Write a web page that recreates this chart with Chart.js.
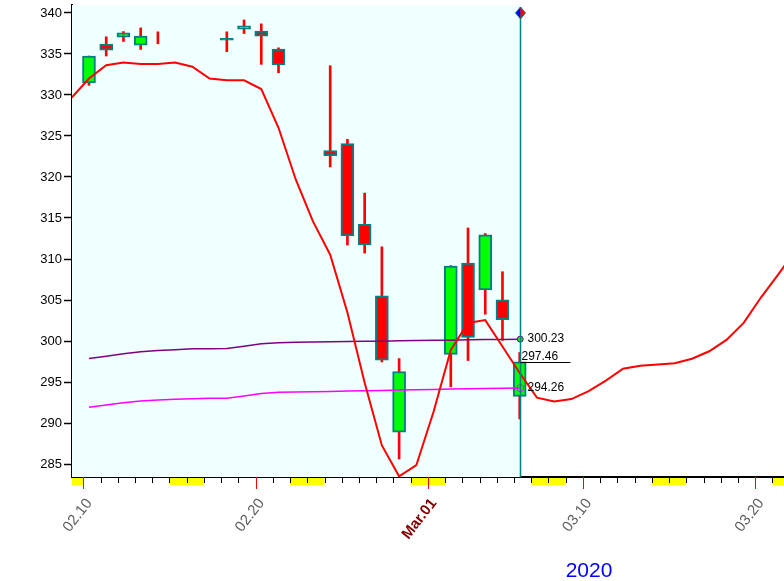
<!DOCTYPE html>
<html>
<head>
<meta charset="utf-8">
<script src="https://cdn.jsdelivr.net/npm/chart.js@4/dist/chart.umd.min.js"></script>
<style>
  html, body { margin: 0; padding: 0; background: #fff; overflow: hidden; }
  #wrap { width: 784px; height: 581px; overflow: hidden; }
</style>
</head>
<body>
<!-- canvas is 5px wider than the window: Chart.js keeps a small right gap for the rotated labels -->
<div id="wrap"><canvas id="chart" width="789" height="581"></canvas></div>
<script>
// day numbers counted from 02.10 (0 = Feb 10 2020)
const candleDays = [0, 1, 2, 3, 4, 8, 9, 10, 11, 14, 15, 16, 17, 18, 21, 22, 23, 24, 25];
const opens  = [331.47, 336.20, 337.05, 336.08, null, 336.85, 338.02, 337.78, 335.60, 323.22, 324.07, 314.24, 305.50, 288.88, 298.38, 309.51, 306.23, 305.02, 293.25];
const closes = [334.75, 335.47, 337.57, 337.17, null, 336.67, 338.42, 337.17, 333.65, 322.61, 312.82, 311.73, 297.65, 296.28, 309.14, 300.45, 312.94, 302.60, 297.46];
const highs  = [334.75, 337.09, 337.73, 338.18, 337.70, 337.70, 339.15, 338.67, 335.75, 333.57, 324.59, 318.04, 311.49, 297.86, 309.20, 313.79, 313.10, 308.45, 298.60];
const lows   = [331.18, 334.75, 336.52, 335.55, 336.24, 335.27, 337.49, 333.73, 332.70, 321.23, 311.70, 310.72, 297.45, 285.61, 294.42, 297.62, 303.27, 300.08, 290.50];

// red curve, one point per calendar day from 02.09
const redStart = -1;
const redLine = [329.69, 332.00, 333.63, 333.97, 333.79, 333.78, 333.97, 333.45, 332.00, 331.79,
                 331.79, 330.72, 326.00, 319.70, 314.58, 310.52, 303.48, 294.90, 287.27, 283.50,
                 284.86, 291.37, 298.92, 302.20, 302.55, 299.33, 296.10, 293.10, 292.62, 292.92,
                 293.89, 295.17, 296.62, 296.99, 297.13, 297.29, 297.84, 298.75, 300.14, 302.21,
                 305.30, 308.09, 311.00];

// purple and magenta bands, one point per calendar day from 02.10 to 03.06
const purpleLine = [297.86, 298.14, 298.45, 298.70, 298.84, 298.95, 299.05, 299.07, 299.08, 299.35,
                    299.66, 299.80, 299.84, 299.88, 299.90, 299.93, 299.96, 299.97, 300.02, 300.06,
                    300.08, 300.10, 300.14, 300.17, 300.20, 300.23];
const magentaLine = [291.92, 292.20, 292.48, 292.68, 292.80, 292.89, 292.95, 293.01, 293.02, 293.30,
                     293.60, 293.76, 293.78, 293.82, 293.86, 293.90, 293.95, 293.98, 294.02, 294.07,
                     294.10, 294.14, 294.18, 294.21, 294.24, 294.26];

const yTicks = [285, 290, 295, 300, 305, 310, 315, 320, 325, 330, 335, 340];
const tickDays = [0, 10, 20, 29, 39];
const tickLabels = ['02.10', '02.20', 'Mar.01', '03.10', '03.20'];
const weekendStarts = [-2, 5, 12, 19, 26, 33, 40];
const yearLabel = '2020';

const lastDay = 25;
const lastClose = 297.46;
const lastPurple = 300.23;
const lastMagenta = 294.26;

const X_MIN = -0.656, X_MAX = 40.67;
const Y_MIN = 283.42, Y_MAX = 340.97;
const OFF = 0.33;   // marks sit a bit right of the day tick
const FONT = "'Liberation Sans', Arial, sans-serif";

const wickData = candleDays.map((d, i) => ({ x: d + OFF, y: [lows[i], highs[i]] }));
const bodyData = candleDays.map((d, i) => ({ x: d + OFF, y: opens[i] === null ? null : [opens[i], closes[i]] }));
const bodyColors = candleDays.map((d, i) => closes[i] >= opens[i] ? '#00ff00' : '#ff0000');
const redData = redLine.map((v, i) => ({ x: redStart + i + OFF, y: v }));
const purpleData = purpleLine.map((v, i) => ({ x: i + OFF, y: v }));
const magentaData = magentaLine.map((v, i) => ({ x: i + OFF, y: v }));

const decor = {
    id: 'decor',
    beforeDatasetsDraw(chart) {
        const { ctx, chartArea: a, scales: { x } } = chart;
        const cx = x.getPixelForValue(lastDay + 0.36);
        ctx.save();
        ctx.fillStyle = '#f0ffff';
        ctx.fillRect(a.left, a.top, cx - a.left, a.bottom - a.top);
        ctx.restore();
    },
    afterDraw(chart) {
        const { ctx, chartArea: a, scales: { x, y } } = chart;
        const cx = Math.round(x.getPixelForValue(lastDay + 0.36)) + 0.5;
        ctx.save();

        // weekend blocks under the axis
        ctx.fillStyle = '#ffff00';
        weekendStarts.forEach(d => {
            const x0 = Math.max(a.left, x.getPixelForValue(d));
            const x1 = Math.min(a.right, x.getPixelForValue(d + 2));
            if (x1 > x0) ctx.fillRect(x0, a.bottom + 1, x1 - x0, 7);
        });

        // day ticks
        for (let d = 0; d <= 40; d++) {
            const px = Math.round(x.getPixelForValue(d)) + 0.5;
            const major = tickDays.includes(d);
            ctx.strokeStyle = major ? '#ff0000' : '#000';
            ctx.lineWidth = 1;
            ctx.beginPath();
            ctx.moveTo(px, a.bottom);
            ctx.lineTo(px, a.bottom + (major ? 12 : 6));
            ctx.stroke();
        }

        // cursor line
        ctx.strokeStyle = '#008080';
        ctx.lineWidth = 1.5;
        ctx.beginPath();
        ctx.moveTo(cx, a.top + 2);
        ctx.lineTo(cx, a.bottom);
        ctx.stroke();

        // diamond at the top
        const dy = y.getPixelForValue(340);
        ctx.fillStyle = '#0000ff';
        ctx.beginPath();
        ctx.moveTo(cx, dy - 6); ctx.lineTo(cx - 5, dy); ctx.lineTo(cx, dy + 6); ctx.closePath();
        ctx.fill();
        ctx.fillStyle = '#ff0000';
        ctx.beginPath();
        ctx.moveTo(cx, dy - 6); ctx.lineTo(cx + 5, dy); ctx.lineTo(cx, dy + 6); ctx.closePath();
        ctx.fill();
        ctx.strokeStyle = '#008080';
        ctx.lineWidth = 1;
        ctx.beginPath();
        ctx.moveTo(cx, dy - 6); ctx.lineTo(cx + 5, dy); ctx.lineTo(cx, dy + 6); ctx.lineTo(cx - 5, dy); ctx.closePath();
        ctx.stroke();

        // last close line and value labels
        const cy = Math.round(y.getPixelForValue(lastClose)) + 0.5;
        ctx.strokeStyle = '#000';
        ctx.lineWidth = 1;
        ctx.beginPath();
        ctx.moveTo(cx, cy);
        ctx.lineTo(cx + 50, cy);
        ctx.stroke();

        ctx.fillStyle = '#000';
        ctx.font = '12px ' + FONT;
        ctx.textAlign = 'left';
        ctx.textBaseline = 'middle';
        ctx.fillText(lastPurple.toFixed(2), cx + 7, y.getPixelForValue(lastPurple));
        ctx.fillText(lastMagenta.toFixed(2), cx + 7, y.getPixelForValue(lastMagenta));
        ctx.textBaseline = 'alphabetic';
        ctx.fillText(lastClose.toFixed(2), cx + 1, cy - 3);

        // year
        ctx.fillStyle = '#0000ff';
        ctx.font = '21px ' + FONT;
        ctx.textAlign = 'center';
        ctx.fillText(yearLabel, 589, 577);
        ctx.restore();
    }
};

new Chart(document.getElementById('chart'), {
    type: 'bar',
    data: {
        datasets: [
            { type: 'line', data: redData, borderColor: '#ff0000', borderWidth: 2, pointRadius: 0, tension: 0, order: -3 },
            { type: 'line', data: purpleData, borderColor: '#800080', borderWidth: 1.5, pointRadius: 0, tension: 0, order: -2 },
            { type: 'line', data: magentaData, borderColor: '#ff00ff', borderWidth: 1.5, pointRadius: 0, tension: 0, order: -2 },
            { type: 'line', data: [{ x: lastDay + 0.36, y: lastPurple }], pointRadius: 3, pointBackgroundColor: '#00ff00', pointBorderColor: '#800080', pointBorderWidth: 1, showLine: false, order: -4 },
            { type: 'line', data: [{ x: lastDay + 0.36, y: lastMagenta }], pointRadius: 3.5, pointBackgroundColor: 'rgba(0,0,0,0)', pointBorderColor: '#ff00ff', pointBorderWidth: 1, showLine: false, order: -4 },
            { data: bodyData, backgroundColor: bodyColors, borderColor: '#008080', borderWidth: 2, borderSkipped: false, barThickness: 13, minBarLength: 2, grouped: false, order: 0 },
            { data: wickData, backgroundColor: '#ff0000', borderWidth: 0, barThickness: 2, grouped: false, order: 1 }
        ]
    },
    options: {
        responsive: false,
        animation: false,
        layout: { padding: { top: 3, right: 0, left: 0, bottom: 0 } },
        plugins: { legend: { display: false }, tooltip: { enabled: false } },
        scales: {
            x: {
                type: 'linear',
                offset: false,
                min: X_MIN, max: X_MAX,
                afterBuildTicks: s => { s.ticks = tickDays.map(v => ({ value: v })); },
                afterFit: s => { s.height = 104; },
                grid: { offset: false, drawOnChartArea: false, drawTicks: true, tickLength: 12, color: 'rgba(0,0,0,0)' },
                border: { color: '#000', width: 2 },
                ticks: {
                    autoSkip: false,
                    minRotation: 52, maxRotation: 52,
                    padding: 6,
                    labelOffset: 6,
                    callback: (v, i) => tickLabels[i],
                    color: c => tickLabels[c.index] === 'Mar.01' ? '#800000' : '#606060',
                    font: c => ({ size: 15, family: FONT, weight: tickLabels[c.index] === 'Mar.01' ? 'bold' : 'normal' })
                }
            },
            y: {
                min: Y_MIN, max: Y_MAX,
                afterBuildTicks: s => { s.ticks = yTicks.map(v => ({ value: v })); },
                afterFit: s => { s.width = 72; s.paddingTop = 0; s.paddingBottom = 0; },
                grid: { drawOnChartArea: false, tickLength: 8, color: '#000', tickWidth: 1.5 },
                border: { color: '#000', width: 2 },
                ticks: { color: '#000', padding: 2, font: { size: 13, family: FONT } }
            }
        }
    },
    plugins: [decor]
});
</script>
</body>
</html>
